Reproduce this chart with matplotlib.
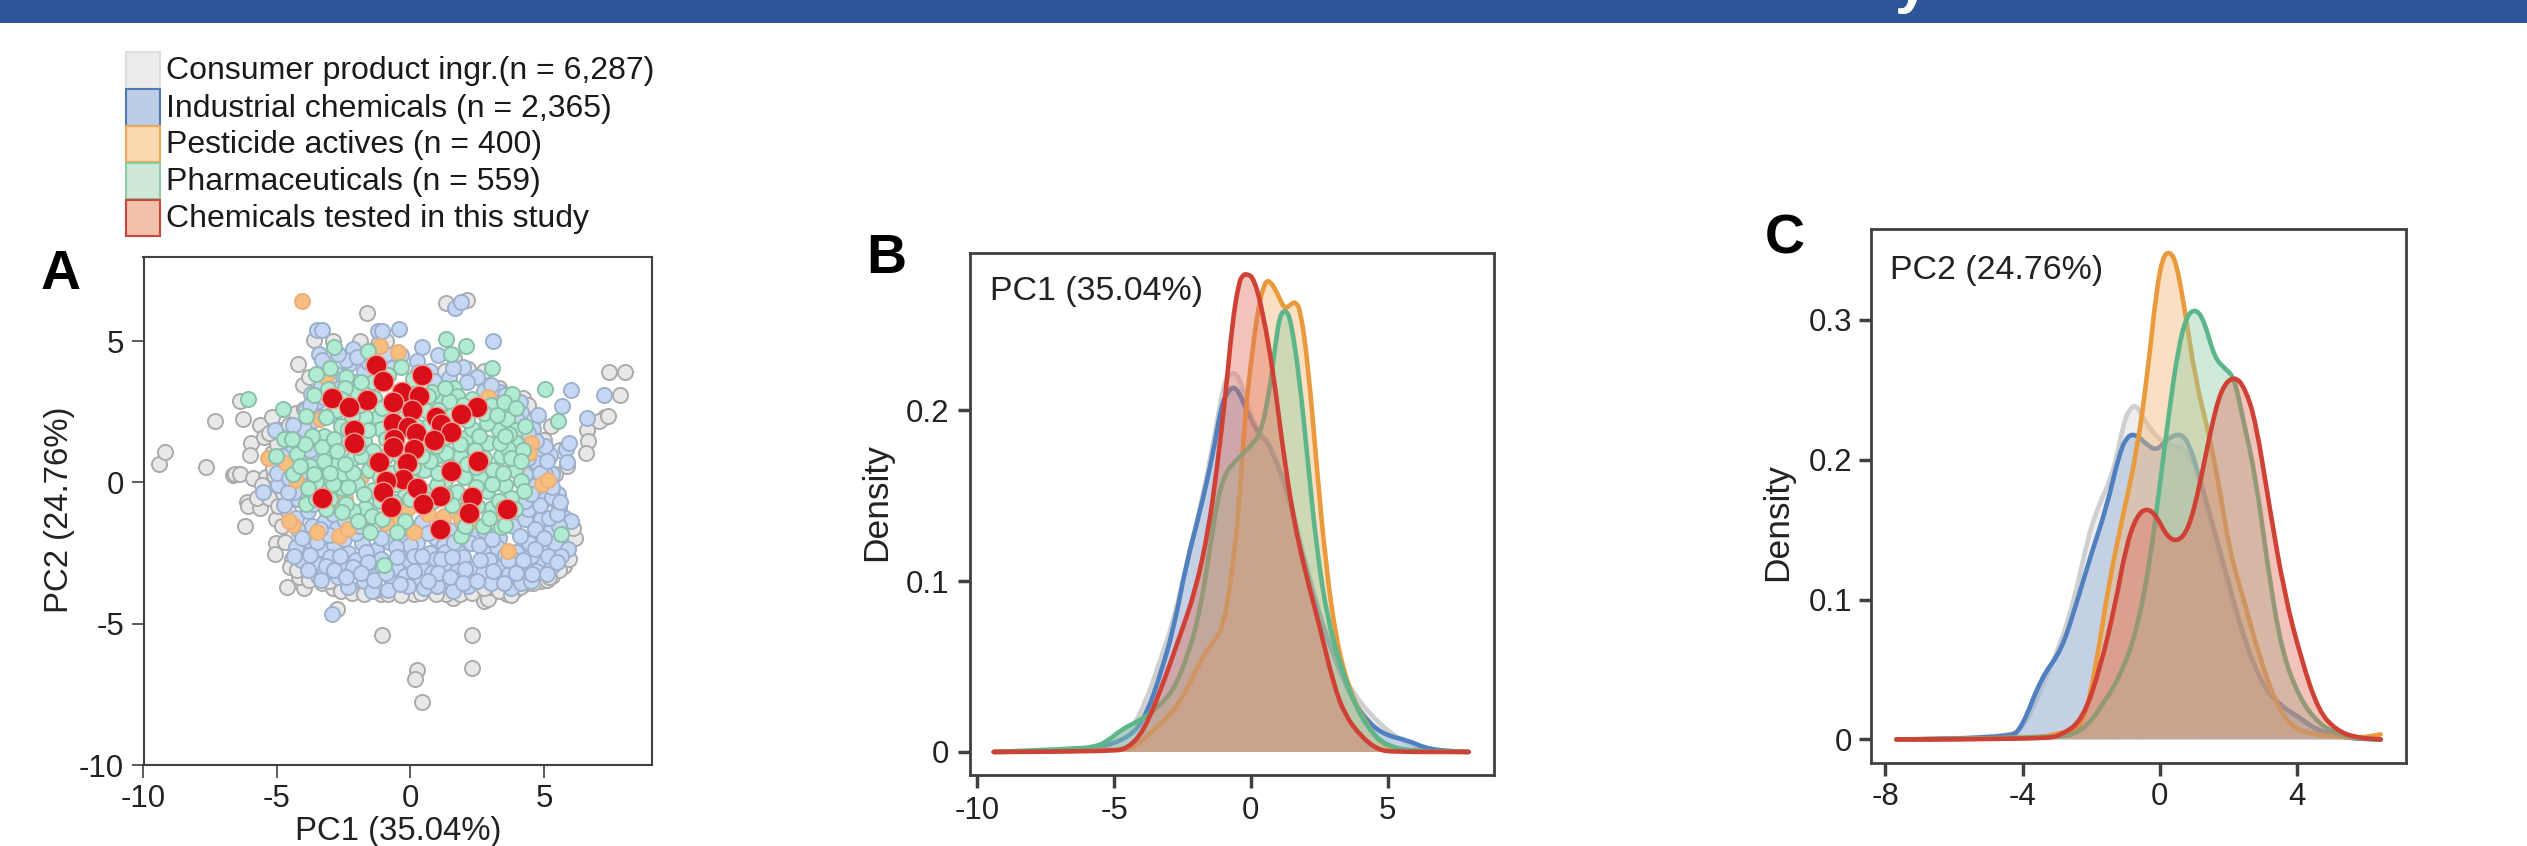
import matplotlib
matplotlib.use("Agg")
import matplotlib.pyplot as plt
from matplotlib.patches import Rectangle, PathPatch
from matplotlib.path import Path

W, H = 2527, 846

# legend
legend_labels = ["Consumer product ingr.(n = 6,287)", "Industrial chemicals (n = 2,365)",
                 "Pesticide actives (n = 400)", "Pharmaceuticals (n = 559)",
                 "Chemicals tested in this study"]

# panel A, points as (PC1, PC2)
gray_xy = [(-9.41,.67),(-9.18,1.07),(-7.65,.54),(-7.34,2.16),(-6.29,2.26),(-6.4,2.9),(-6.63,.25),(-6.56,.29),
    (-6.37,.29),(-6.21,-1.55),(-6.14,-.7),(-6.08,-.84),(-5.64,-.9),(-5.89,.15),(-5.03,-2.14),(-5.07,-2.52),
    (-4.63,-3.71),(-4.0,-3.73),(-4.19,-3.35),(-2.77,-4.49),(-1.07,-5.39),(2.29,-5.39),(2.29,-6.58),(.25,-6.63),
    (.17,-6.94),(.44,-7.76),(2.77,-4.19),(2.89,-4.11),(-4.21,4.21),(-1.63,6.0),(1.34,6.35),(2.10,6.46),
    (7.42,3.92),(8.05,3.92),(7.84,3.10),(7.27,2.31),(7.08,2.16),(7.4,2.35),(6.6,1.84),(6.65,1.45),(6.56,1.05),
    (6.18,-1.95),(5.76,-2.94),(-4.02,3.44),(-3.63,5.03),(-5.64,2.03),(-5.2,2.31),(-5.97,1.4),(-6.02,.98),
    (-5.4,.2),(-5.1,.28),(-5.55,-.1),(-4.85,-.55),(-5.2,1.05),(-5.5,1.6),(-4.9,1.85),(-5.0,.85),(-4.75,.0),
    (-5.05,-1.3),(-4.6,-1.0),(-4.7,-2.1),(-4.45,-2.7),(-4.05,-2.95),(-3.6,-3.2),(-3.3,-3.55),(-2.9,-3.75),
    (-2.4,-3.6),(-2.0,-3.85),(-1.5,-3.7),(-1.1,-3.95),(-.6,-3.75),(.15,-3.95),(.7,-3.7),(1.2,-3.85),(1.6,-4.1),
    (2.0,-3.8),(2.5,-3.65),(3.0,-3.7),(3.6,-3.95),(3.9,-3.8),(4.3,-3.6),(4.9,-3.5),(5.3,-3.3),(-.2,-2.9),
    (1.6,-3.35),(-2.9,5.0),(-1.9,5.0),(-.9,5.0),(-1.2,4.9),(1.65,4.4),(2.15,4.0),(2.75,3.95),(1.3,3.95),
    (3.3,3.35),(4.2,3.0),(4.4,2.75),(5.25,2.0),(5.6,1.15),(5.0,1.5),(4.6,2.2),(5.0,-.05),(5.4,.3),(5.85,.6),
    (5.5,-.95),(5.75,-1.35),(5.15,-.95),(4.8,-.35),(4.35,-.55),(1.35,-3.95),(-3.8,3.75),(-4.3,1.25),(-3.7,.75),
    (-5.75,-.55),(-5.3,-.55),(-5.15,.5),(-4.95,-.85),(-4.8,-1.55),(-4.75,1.2),(-4.55,2.05),(-4.3,2.45),(-4.0,2.6),
    (-5.0,1.35),(-5.3,1.75),(-4.5,-3.0),(-4.25,-3.1),(-3.8,-3.45),(-3.45,-3.3),(-3.05,-3.5),(-2.6,-3.85),(-2.2,-3.9),
    (-1.75,-3.95),(-1.3,-3.8),(-.85,-3.95),(-.35,-4.0),(.4,-3.9),(.95,-3.95),(1.85,-3.95),(2.3,-3.9),(2.75,-3.75),
    (3.3,-3.85),(4.1,-3.7),(4.6,-3.55),(5.1,-3.45),(5.55,-3.1),(5.95,-2.7),(6.1,-1.6),(5.2,-3.35),(3.75,-4.0)]
blue_xy = [(-3.5,5.41),(-3.3,5.41),(-1.2,5.37),(-1.05,5.35),(-.44,5.43),(.44,4.78),(1.05,4.51),(1.66,6.16),(1.91,6.37),
    (3.1,4.99),(2.49,3.75),(2.1,3.54),(6.0,3.29),(5.66,2.72),(7.25,3.1),(6.63,2.29),(4.78,2.39),(-2.93,-4.65),
    (5.83,1.2),(5.93,1.4),(5.22,.98),(5.87,.73),(4.68,.44),(5.54,-.42),(5.03,-.6),(-5.54,-.33),(-4.4,-.23),
    (-5.07,1.87),(-3.73,3.12),(-3.44,4.55),(-2.14,4.74),(-3.3,4.35),(-2.8,3.85),(-2.3,4.2),(-1.75,3.9),(-1.3,4.7),
    (-3.05,3.6),(-3.45,2.9),(-3.9,1.55),(-4.4,1.15),(-4.05,.95),(-3.6,2.2),(-3.0,2.4),(-2.5,1.4),(-4.7,.45),
    (-4.95,-.1),(-4.2,-.6),(-3.75,-.3),(-3.4,.35),(-.35,4.5),(.25,4.3),(.75,3.95),(1.45,3.7),(1.95,4.1),(2.75,3.25),
    (3.35,3.2),(3.8,2.85),(4.15,2.5),(4.6,1.9),(4.75,1.1),(5.3,.3),(5.55,-.9),(5.8,-1.25),(6.0,-1.35),(4.9,-1.3),
    (5.25,-1.7),(-4.2,-1.7),(-3.7,-1.55),(-3.2,-1.35),(-2.75,-1.6),(-2.15,-1.3),(-1.55,-1.75),(-.95,-1.45),
    (-.35,-1.85),(.45,-1.4),(.95,-1.95),(1.45,-1.7),(2.3,-1.85),(2.75,-1.7),(3.3,-1.95),(3.85,-1.55),(4.3,-1.3),(4.65,-1.65),
    (-4.3,-2.3),(-3.85,-2.05),(-3.35,-2.35),(-2.85,-2.2),(-2.35,-2.5),(-1.8,-2.15),(-1.3,-2.4),(-.8,-2.1),(-.3,-2.45),
    (.25,-2.15),(.75,-2.5),(1.25,-2.2),(1.8,-2.45),(2.25,-2.15),(2.8,-2.5),(3.25,-2.3),(3.95,-2.45),(4.45,-2.15),
    (4.95,-2.45),(5.4,-2.15),(5.9,-2.35),(-4.1,-2.75),(-3.55,-2.9),(-3.0,-2.65),(-2.55,-3.0),(-2.05,-2.75),(-1.55,-3.05),
    (-1.1,-2.7),(-.55,-3.0),(-.05,-2.75),(.45,-3.05),(.95,-2.7),(1.45,-2.95),(1.95,-2.65),(2.45,-3.0),(2.95,-2.75),
    (3.45,-2.95),(3.9,-2.75),(4.4,-3.0),(4.85,-2.7),(5.3,-2.95),(-3.25,-3.2),(-2.7,-3.35),(-2.2,-3.15),(-1.75,-3.5),
    (-1.2,-3.25),(-.7,-3.55),(-.2,-3.3),(.3,-3.5),(.8,-3.2),(1.25,-3.5),(1.75,-3.15),(2.2,-3.45),(2.7,-3.2),(3.2,-3.4),
    (3.7,-3.25),(4.2,-3.3),(4.7,-3.15),(5.1,-3.25),(-2.35,-3.7),(-1.45,-3.85),(-.85,-3.8),(-.1,-3.65),(.5,-3.75),
    (1.0,-3.65),(1.6,-3.85),(2.15,-3.65),(3.0,-3.55),(3.75,-3.75),(4.15,-3.55),(4.5,-3.5),(1.3,-2.45),(.0,-2.2),
    (-4.05,-1.95),(-3.5,-2.1),(-3.05,-1.85),(-2.5,-2.0),(-2.05,-1.8),(-1.65,-2.45),(-1.1,-1.95),(-.55,-2.3),(-.1,-1.6),
    (.15,-2.6),(.65,-1.8),(1.15,-2.7),(1.65,-2.1),(2.05,-1.6),(2.55,-2.2),(3.05,-2.0),(3.55,-2.55),(4.1,-1.9),(4.5,-2.6),
    (5.0,-1.95),(5.55,-1.55),(-4.35,-2.6),(-3.75,-2.55),(-3.15,-2.95),(-2.65,-2.6),(-2.15,-3.0),(-1.6,-2.8),(-1.05,-3.0),
    (-.5,-2.65),(.45,-2.6),(1.05,-3.2),(1.55,-2.65),(2.05,-3.05),(2.6,-2.75),(3.1,-3.15),(3.65,-2.75),(4.2,-2.75),(4.65,-2.35),
    (5.15,-2.6),(5.65,-2.6),(-3.85,-3.1),(-3.35,-3.45),(-2.85,-3.1),(-2.4,-3.35),(-1.85,-3.2),(-1.35,-3.45),(-.9,-3.2),
    (-.4,-3.6),(.15,-3.15),(.65,-3.5),(1.5,-3.35),(1.95,-3.55),(2.5,-3.5),(3.5,-3.55),(3.95,-3.2),(4.55,-3.25),(5.5,-2.8),
    (-4.3,-1.25),(-3.85,-1.0),(-3.4,-1.65),(-2.9,-1.1),(-2.45,-1.35),(-1.9,-1.55),(4.4,-.95),(4.85,-.8),(5.2,-1.25),(5.5,-1.1),
    (-4.75,-.8),(-4.35,-.35),(-3.65,-.75),(-3.2,-.35),(4.3,-.65),(4.7,-.1),(5.3,-.5),(5.6,-.7),(-4.6,-.35),(-4.15,.2),
    (4.5,-.4),(5.05,.3),(5.3,-.15),(-5.0,.35),(-4.55,.15),(-3.95,.4),(-3.6,.85),(4.3,.3),(4.75,.7),(5.0,.05),(-4.8,.95),
    (-4.3,.7),(-3.75,1.15),(4.4,.85),(4.85,.35),(5.05,1.3),(-4.6,1.6),(-4.0,1.9),(-3.55,1.55),(4.2,1.6),(4.7,1.45),(5.1,.75),
    (-4.4,2.05),(-3.9,2.6),(-3.35,2.3),(4.0,2.2),(4.4,1.75),(-3.75,2.75),(-3.2,3.0),(3.6,2.6),(4.1,2.85),(-3.35,3.4),(-2.7,3.3),
    (-2.1,3.55),(3.0,3.45),(3.55,3.1),(-3.0,3.95),(-2.4,4.35),(-1.6,4.25),(-.9,4.55),(.9,3.6),(1.6,4.05),(-2.7,4.55),(-2.0,4.45),
    (-1.4,4.2),(-.7,4.05),(.3,3.9)]
orange_xy = [(-4.07,6.42),(-.48,4.61),(-1.15,4.84),(-3.15,3.73),(-3.4,2.24),(2.9,3.02),(-5.35,.88),(-4.68,.69),
    (-4.3,.1),(4.5,1.4),(4.44,1.05),(4.93,-.04),(5.15,.1),(3.67,-2.43),(-4.4,-1.51),(-3.5,-1.76),(-2.68,-1.91),
    (-2.35,-1.63),(-2.77,-.8),(-2.45,-.55),(-.1,-.9),(1.25,-1.2),(1.72,-1.0),(2.3,-1.38),(3.25,-1.1),(-.57,-1.3),
    (.67,-1.1),(4.0,.55),(-.9,-1.45),(.13,-1.76),(1.9,-1.3),(-4.55,-1.35),(2.0,-.95),(-1.85,.2)]
green_xy = [(-6.08,2.94),(-4.78,2.6),(-3.92,2.35),(-2.87,4.8),(-1.59,4.65),(1.34,5.09),(1.51,4.53),(2.07,4.82),
    (3.04,4.05),(5.03,3.31),(5.54,2.18),(3.82,3.12),(1.63,3.35),(-.99,-2.91),(5.64,-1.82),(1.91,-1.91),(3.4,-1.59),
    (-3.55,3.85),(-2.4,3.75),(-2.05,3.25),(-1.4,3.55),(-3.0,4.05),(-2.6,2.0),(-3.25,1.65),(-4.75,1.55),(-5.05,.95),
    (-4.25,1.0),(-3.75,.6),(-3.3,1.25),(-2.85,1.55),(-2.7,.7),(-3.35,.2),(-2.55,.25),(-2.15,.85),(-1.75,1.45),(-1.55,.45),
    (-2.0,-.05),(-1.4,-.25),(-1.7,-.9),(-2.15,-1.0),(-2.55,-.2),(-3.0,-.6),(-3.9,-.75),(-3.55,.0),(-4.4,.3),(-1.2,2.3),
    (-1.35,3.0),(-1.1,1.9),(-1.4,1.1),(-.7,.35),(-.2,-.45),(.5,.45),(.95,.95),(.6,1.95),(1.3,.1),(1.85,.95),(2.1,1.6),
    (1.35,1.05),(2.0,.2),(2.6,.15),(1.75,-.35),(2.85,-.3),(3.1,.45),(3.4,.95),(2.9,1.4),(3.3,1.85),(2.85,2.1),(3.6,2.25),
    (3.0,2.75),(3.5,2.85),(3.95,2.65),(1.75,3.05),(2.3,2.95),(1.2,2.95),(.8,3.2),(.55,2.55),(1.55,2.4),(2.3,1.9),
    (3.95,1.85),(3.95,1.4),(3.65,1.2),(3.9,.45),(4.15,.05),(4.25,-.3),(3.55,-.1),(3.75,-.55),(3.05,-.9),(2.7,-1.55),
    (3.55,-1.5),(2.95,-1.25),(3.3,-.65),(-1.5,-1.75),(-.2,-1.35),(.6,-.35),(1.55,-.8),(-1.15,-.65),(-.35,.6),(-1.7,2.3),
    (-2.45,3.35),(-1.9,2.75),(-2.75,2.55),(-1.35,.75),(-.9,1.55),(.35,1.25),(-2.9,-.05),(-.5,-1.75),(2.05,-1.55),(3.9,-.95),
    (-3.6,3.1),(-3.1,3.3),(-2.6,2.95),(-3.15,2.3),(-2.75,1.1),(-2.35,1.9),(-3.7,1.65),(-3.25,.75),(-2.15,.35),(-1.85,.95),
    (-1.15,.2),(-1.75,-.4),(-2.4,-.75),(-3.55,-.6),(-3.85,-.2),(-4.15,.6),(-3.95,1.35),(-4.45,1.55),(-3.0,.35),(-2.35,-.15),
    (-1.45,-1.2),(-1.95,-1.35),(-1.05,-1.3),(-.6,-.7),(-.9,-.2),(.05,.05),(.5,-.55),(1.0,-.1),(1.45,.55),(1.05,.35),
    (.75,.75),(.1,.55),(.45,.95),(.95,1.3),(1.35,1.6),(1.05,1.75),(1.85,1.35),(2.4,1.15),(2.1,.65),(2.45,.55),(2.75,.85),
    (2.45,-.15),(2.15,-.55),(2.5,-.85),(3.05,-.05),(3.45,.35),(3.75,.85),(3.35,1.4),(3.7,1.7),(2.55,1.65),(2.75,2.45),
    (3.25,2.4),(3.55,1.65),(4.2,1.15),(4.15,.75),(4.3,2.0),(1.95,2.75),(1.45,2.9),(1.05,2.55),(2.1,2.2),(1.3,3.35),(.65,3.05),
    (-.35,4.1),(.1,3.65),(-.85,3.8),(-.45,1.0),(-1.85,3.55),(-1.05,2.65),(-.35,2.25),(.2,2.0),(-2.2,2.35),(-1.6,1.85),
    (-1.95,1.25),(-2.45,.65),(-3.6,.3),(-3.15,-.95),(-2.55,-1.05),(-.95,.9),(-.55,-.05),(.0,-.6),(.85,-.65),(1.3,-.45),(3.45,-.9)]
red_x = [-1.28,.44,-1.01,-2.93,-1.63,-2.31,-.33,.33,-.67,.06,2.5,1.91,.96,1.15,-.67,-.1,-2.1,1.53,-.63,.21,
    .9,-2.12,-.67,.13,-1.17,-.13,2.52,1.51,-.29,-.9,.25,-1.01,-3.31,1.09,2.31,.48,-.71,3.63,2.2,1.09]
red_y = [4.15,3.79,3.58,2.98,2.93,2.66,3.19,3.06,2.85,2.58,2.66,2.43,2.31,2.07,2.12,1.97,1.87,1.78,1.55,1.74,
    1.49,1.41,1.24,1.17,.71,.69,.76,.42,.13,.06,-.19,-.33,-.55,-.48,-.52,-.76,-.88,-.94,-1.09,-1.63]

# panel B, PC1 density
b_gray_x = [-9.4,-6.6,-5.5,-4.4,-3.85,-3.38,-2.82,-2.27,-1.79,-1.32,-1.0,-.84,-.68,-.52,-.36,.03,.43,.67,.98,1.38,1.85,2.49,3.12,3.76,4.39,5.02,5.74,6.53,7.96]
b_gray_y = [0,.0006,.0024,.012,.029,.0507,.077,.116,.147,.186,.215,.22,.222,.221,.216,.195,.1846,.181,.169,.152,.1206,.082,.053,.0338,.0217,.012,.0048,.001,0]
b_blue_x = [-9.4,-6.15,-5.2,-4.25,-3.77,-3.3,-2.82,-2.35,-1.87,-1.39,-1.08,-.84,-.63,-.41,-.05,.35,.59,.9,1.3,1.77,2.41,3.04,3.68,4.31,4.94,5.74,6.53,7.96]
b_blue_y = [0,.0005,.0036,.0109,.0241,.0458,.0724,.111,.14,.174,.203,.211,.214,.21,.196,.1846,.182,.171,.154,.123,.0844,.0555,.0314,.0169,.0097,.0068,.0012,0]
b_orange_x = [-9.4,-4.56,-4.09,-3.45,-2.82,-2.35,-1.87,-1.39,-1.0,-.68,-.44,-.21,.03,.27,.51,.67,.9,1.22,1.46,1.62,1.81,2.09,2.41,2.73,3.12,3.6,4.15,4.79,5.58,7.96]
b_orange_y = [0,.0005,.0048,.0145,.0241,.0362,.053,.064,.0736,.106,.142,.198,.2316,.2606,.275,.276,.271,.259,.262,.2637,.259,.2268,.1665,.111,.0651,.0362,.0181,.0036,.0005,0]
b_green_x = [-9.4,-6.62,-5.67,-5.2,-4.72,-4.09,-3.45,-2.82,-2.27,-1.87,-1.55,-1.24,-.92,-.52,-.05,.35,.67,.9,1.06,1.27,1.46,1.77,2.09,2.41,2.81,3.28,3.76,4.31,4.94,5.9,7.96]
b_green_y = [0,.0017,.0029,.0068,.0133,.0181,.0253,.0362,.058,.082,.113,.147,.164,.171,.1785,.186,.21,.239,.256,.259,.253,.2195,.169,.118,.077,.0507,.029,.0133,.0036,.0005,0]
b_red_x = [-9.4,-5.04,-4.48,-3.93,-3.3,-2.66,-2.03,-1.55,-1.24,-.92,-.68,-.44,-.3,-.16,.11,.43,.82,1.14,1.54,2.01,2.49,3.04,3.44,3.99,4.63,5.26,7.96]
b_red_y = [0,.0002,.0024,.012,.036,.065,.094,.13,.166,.21,.251,.275,.279,.28,.2775,.258,.222,.181,.1375,.104,.075,.0386,.0217,.0097,.0012,0,0]

# panel C, PC2 density
c_gray_x = [-7.68,-4.4,-3.89,-3.38,-2.88,-2.44,-2.12,-1.81,-1.36,-1.05,-.88,-.73,-.58,-.42,-.04,.4,.72,1.04,1.41,1.79,2.3,2.93,3.56,4.07,4.7,5.45,6.44]
c_gray_y = [0,.0006,.011,.0416,.069,.105,.142,.166,.19,.227,.236,.239,.235,.227,.2147,.209,.2086,.193,.163,.1266,.081,.0416,.0234,.0143,.0052,.0006,0]
c_blue_x = [-7.68,-4.4,-4.02,-3.45,-2.88,-2.44,-2.0,-1.55,-1.17,-.92,-.67,-.35,-.08,.21,.59,.85,1.16,1.54,1.98,2.49,3.06,3.56,4.07,4.57,5.33,6.44]
c_blue_y = [0,.0006,.0082,.0446,.0629,.0963,.1327,.166,.2056,.2177,.2177,.21,.2065,.2147,.2192,.2117,.1874,.154,.1145,.0689,.0355,.0234,.0158,.0067,.0012,0]
c_orange_x = [-7.68,-3.64,-2.88,-2.25,-1.87,-1.49,-1.05,-.67,-.35,-.1,.09,.28,.47,.72,1.04,1.41,1.73,2.05,2.49,2.93,3.43,3.88,4.44,5.2,5.83,6.44]
c_orange_y = [0,.0006,.0046,.0082,.0507,.1114,.163,.2056,.2633,.321,.3453,.349,.342,.309,.257,.2208,.1813,.1327,.0963,.0568,.0234,.0082,.0036,.002,.0009,.0036]
c_green_x = [-7.68,-3.13,-2.25,-1.62,-1.11,-.67,-.29,.03,.28,.53,.78,1.04,1.29,1.6,1.92,2.17,2.42,2.8,3.18,3.56,4.07,4.63,5.2,5.83,6.44]
c_green_y = [0,.0006,.0052,.0264,.0477,.078,.1266,.1874,.236,.2785,.3028,.308,.2997,.2724,.2648,.2587,.2299,.1874,.1175,.0629,.0295,.0112,.0036,.0006,0]
c_red_x = [-7.68,-3.38,-2.82,-2.25,-1.74,-1.3,-.98,-.67,-.38,-.1,.21,.53,.85,1.16,1.48,1.79,2.17,2.49,2.8,3.18,3.62,4.13,4.63,5.14,5.71,6.44]
c_red_y = [0,0,.0036,.0143,.0507,.0963,.1388,.16,.1655,.16,.1449,.1412,.151,.1813,.2208,.2511,.2602,.2511,.2268,.1691,.1054,.0568,.0203,.0067,.0012,0]

plt.rcParams['font.family'] = ['Liberation Sans', 'DejaVu Sans']
TXT = '#222222'
EDGE = '#404040'

fig = plt.figure(figsize=(W / 100, H / 100), dpi=100)


def fx(px):
    return px / W


def fy(py):
    return 1 - py / H


def make_axes(left, right, top, bottom, xlim, ylim, xticks, yticks, lw, tick_w, tick_l, pad):
    ax = fig.add_axes([fx(left), fy(bottom), (right - left) / W, (bottom - top) / H])
    ax.set_xlim(xlim)
    ax.set_ylim(ylim)
    ax.set_xticks(xticks)
    ax.set_yticks(yticks)
    ax.set_xticklabels([str(t) for t in xticks])
    ax.set_yticklabels([str(t) for t in yticks])
    for s in ax.spines.values():
        s.set_linewidth(lw)
        s.set_color(EDGE)
    ax.tick_params(width=tick_w, length=tick_l, color=EDGE, labelsize=22.5, labelcolor=TXT, pad=pad)
    return ax


# banner across the top, title is cut off so only a descender shows
fig.add_artist(Rectangle((0, fy(23)), 1, 23 / H, transform=fig.transFigure, facecolor='#2E5597', edgecolor='none'))
fig.text(fx(1912), fy(1), 'y', color='white', fontsize=44, fontweight='bold', ha='center', va='baseline')

# legend
swatches = [('#ECECEC', '#DDDDDD'), ('#BCCDE8', '#4F77B0'), ('#FAD8B0', '#EDA75A'), ('#CDE8D6', '#8CCBA5'), ('#F2BFA8', '#C8463C')]
rows = [(52, 89), (89, 126), (126, 162), (163, 199), (200, 236)]
for (fc, ec), (r0, r1), lab in zip(swatches, rows, legend_labels):
    fig.add_artist(Rectangle((fx(125.5), fy(r1)), 34 / W, (r1 - r0) / H, transform=fig.transFigure,
                             facecolor=fc, edgecolor=ec, linewidth=1.5))
    fig.text(fx(166), fy((r0 + r1) / 2 + 1), lab, fontsize=23, color='#1a1a1a', ha='left', va='center')

# panel A
ax_a = make_axes(143.5, 651.5, 257, 765, (-10, 9.03), (-10, 7.98), [-10, -5, 0, 5], [-10, -5, 0, 5], 1.5, 1.2, 9, 5)
groups = [(gray_xy, '#E8E8E8', '#ABABAB'), (blue_xy, '#C4D8F4', '#9DB0CC'), (orange_xy, '#F8BE7E', '#E8B080'), (green_xy, '#B0EBD3', '#8CBFA8')]
for pts, fc, ec in groups:
    ax_a.scatter([p[0] for p in pts], [p[1] for p in pts], s=118, c=fc, edgecolors=ec, linewidths=1.4)
ax_a.scatter(red_x, red_y, s=220, c='#D9101A', edgecolors='#F0A090', linewidths=1.0, zorder=5)
fig.text(fx(398), fy(831), 'PC1 (35.04%)', fontsize=23.7, color=TXT, ha='center', va='center')
fig.text(fx(60), fy(510), 'PC2 (24.76%)', fontsize=23.7, color=TXT, ha='center', va='center', rotation=90)
fig.text(fx(41), fy(289), 'A', fontsize=40, fontweight='bold', color='black', ha='left', va='baseline')

# density panels
colors = ['#CFCFCF', '#5080BF', '#E89A3C', '#5DB58A', '#CF4035']
fills = ['#D8D8D8', '#8CA8D8', '#F5B36E', '#8FCFA8', '#E0705C']


def smooth_path(x, y, closed=False):
    # quadratic curve through the midpoints, knots act as control points
    verts = [(x[0], y[0])]
    codes = [Path.MOVETO]
    for i in range(1, len(x) - 1):
        verts += [(x[i], y[i]), ((x[i] + x[i + 1]) / 2, (y[i] + y[i + 1]) / 2)]
        codes += [Path.CURVE3, Path.CURVE3]
    verts.append((x[-1], y[-1]))
    codes.append(Path.LINETO)
    if closed:
        verts.append((x[0], y[0]))
        codes.append(Path.LINETO)
    return Path(verts, codes)


def draw_density(ax, series):
    # each fill covers the lines drawn before it, so older lines go muted
    for (x, y), c, f in zip(series, colors, fills):
        ax.add_patch(PathPatch(smooth_path(x, y, True), facecolor=f, edgecolor='none', alpha=0.42))
        ax.add_patch(PathPatch(smooth_path(x, y), facecolor='none', edgecolor=c, lw=3.3, capstyle='round'))


ax_b = make_axes(970, 1493.5, 252.7, 775, (-10.27, 8.87), (-0.0135, 0.2923), [-10, -5, 0, 5], [0, 0.1, 0.2], 2, 2.5, 9, 6)
draw_density(ax_b, [(b_gray_x, b_gray_y), (b_blue_x, b_blue_y), (b_orange_x, b_orange_y), (b_green_x, b_green_y), (b_red_x, b_red_y)])
fig.text(fx(990), fy(291.5), 'PC1 (35.04%)', fontsize=24.4, color=TXT, ha='left', va='center')
fig.text(fx(877), fy(501.6), 'Density', fontsize=25.5, color=TXT, ha='center', va='center', rotation=90)
fig.text(fx(866), fy(273), 'B', fontsize=40, fontweight='bold', color='black', ha='left', va='baseline')

ax_c = make_axes(1871.4, 2405.7, 229.3, 762.8, (-8.41, 7.17), (-0.0167, 0.3647), [-8, -4, 0, 4], [0, 0.1, 0.2, 0.3], 2, 2.5, 9, 5)
draw_density(ax_c, [(c_gray_x, c_gray_y), (c_blue_x, c_blue_y), (c_orange_x, c_orange_y), (c_green_x, c_green_y), (c_red_x, c_red_y)])
fig.text(fx(1890.5), fy(270), 'PC2 (24.76%)', fontsize=24.4, color=TXT, ha='left', va='center')
fig.text(fx(1778), fy(522), 'Density', fontsize=25.5, color=TXT, ha='center', va='center', rotation=90)
fig.text(fx(1765), fy(254), 'C', fontsize=40, fontweight='bold', color='black', ha='left', va='baseline')

fig.savefig('out.png', dpi=100)
